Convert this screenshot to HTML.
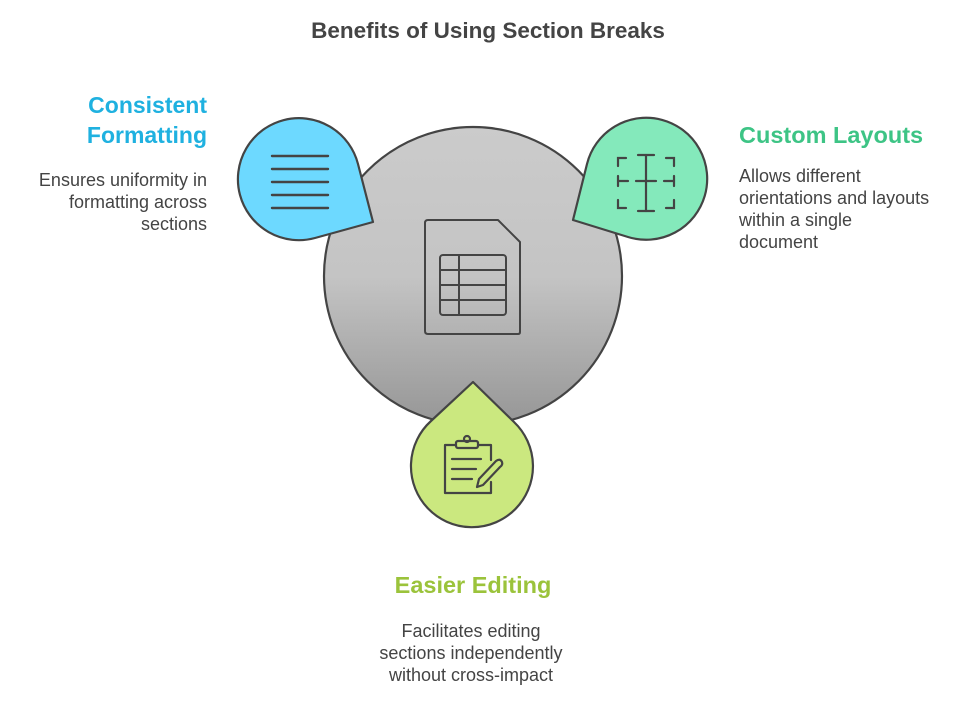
<!DOCTYPE html>
<html><head><meta charset="utf-8"><style>
html,body{margin:0;padding:0;background:#fff;}
svg{display:block;}
text{font-family:"Liberation Sans",sans-serif;}
</style></head><body>
<svg width="962" height="705" viewBox="0 0 962 705" xmlns="http://www.w3.org/2000/svg">
<defs>
<linearGradient id="g" x1="0" y1="0" x2="0" y2="1">
<stop offset="0" stop-color="#cbcbcb"/><stop offset="0.5" stop-color="#c4c4c4"/><stop offset="1" stop-color="#969696"/>
</linearGradient>
</defs>
<text x="488" y="38" text-anchor="middle" font-size="22.5" font-weight="bold" fill="#444">Benefits of Using Section Breaks</text>

<circle cx="473" cy="276" r="149" fill="url(#g)" stroke="#444" stroke-width="2.2"/>
<g fill="none" stroke="#444" stroke-width="2" stroke-linejoin="round">
<path d="M428 220 H498 L520 242 V332 Q520 334 518 334 H428 Q425 334 425 331 V223 Q425 220 428 220 Z"/>
<rect x="440" y="255" width="66" height="60" rx="3"/>
<line x1="440" y1="270" x2="506" y2="270"/><line x1="440" y1="285" x2="506" y2="285"/><line x1="440" y1="300" x2="506" y2="300"/>
<line x1="459" y1="255" x2="459" y2="315"/>
</g>

<path d="M373 222 L315 238 A61 61 0 1 1 358 164 Z" fill="#6dd9ff" stroke="#444" stroke-width="2.2" stroke-linejoin="round"/>
<g stroke="#444" stroke-width="2.4" stroke-linecap="round">
<line x1="272" y1="156" x2="328" y2="156"/><line x1="272" y1="169" x2="328" y2="169"/><line x1="272" y1="182" x2="328" y2="182"/><line x1="272" y1="195" x2="328" y2="195"/><line x1="272" y1="208" x2="328" y2="208"/>
</g>

<path d="M573 220 L628 237 A61 61 0 1 0 587 164 Z" fill="#84e9bb" stroke="#444" stroke-width="2.2" stroke-linejoin="round"/>
<g fill="none" stroke="#444" stroke-width="2.2" stroke-linecap="round">
<path d="M618 166 V158 H626"/><path d="M618 186 V176"/><path d="M618 200 V208 H626"/>
<path d="M674 166 V158 H666"/><path d="M674 186 V176"/><path d="M674 200 V208 H666"/>
<line x1="646" y1="155" x2="646" y2="211"/><line x1="638" y1="155" x2="654" y2="155"/><line x1="638" y1="211" x2="654" y2="211"/>
<line x1="618" y1="181" x2="628" y2="181"/><line x1="636" y1="181" x2="656" y2="181"/><line x1="664" y1="181" x2="674" y2="181"/>
</g>

<path d="M473 382 L514 422 A61 61 0 1 1 431 421 Z" fill="#cbe87f" stroke="#444" stroke-width="2.2" stroke-linejoin="round"/>
<g fill="none" stroke="#444" stroke-width="2.2" stroke-linecap="round" stroke-linejoin="round">
<path d="M456 445 H445 V493 H491 V482"/><path d="M478 445 H491 V460"/>
<rect x="456" y="441" width="22" height="7" rx="2"/><circle cx="467" cy="439" r="3"/>
<line x1="452" y1="459" x2="481" y2="459"/><line x1="452" y1="469" x2="476" y2="469"/><line x1="452" y1="479" x2="472" y2="479"/>
<path d="M477 487 L479 479 L496 461 Q500 458 502 462 Q503 465 500 467 L483 485 Z"/>
</g>

<text text-anchor="end" font-size="23" font-weight="bold" fill="#1fb1e0"><tspan x="207" y="113">Consistent</tspan><tspan x="207" y="143">Formatting</tspan></text>
<text text-anchor="end" font-size="18" fill="#444"><tspan x="207" y="186">Ensures uniformity in</tspan><tspan x="207" y="208">formatting across</tspan><tspan x="207" y="230">sections</tspan></text>

<text x="739" y="143" font-size="23.5" font-weight="bold" fill="#3dc485">Custom Layouts</text>
<text font-size="18" fill="#444"><tspan x="739" y="182">Allows different</tspan><tspan x="739" y="204">orientations and layouts</tspan><tspan x="739" y="226">within a single</tspan><tspan x="739" y="248">document</tspan></text>

<text x="473" y="593" text-anchor="middle" font-size="23.5" font-weight="bold" fill="#9bc33b">Easier Editing</text>
<text text-anchor="middle" font-size="18" fill="#444"><tspan x="471" y="637">Facilitates editing</tspan><tspan x="471" y="659">sections independently</tspan><tspan x="471" y="681">without cross-impact</tspan></text>
</svg>
</body></html>
